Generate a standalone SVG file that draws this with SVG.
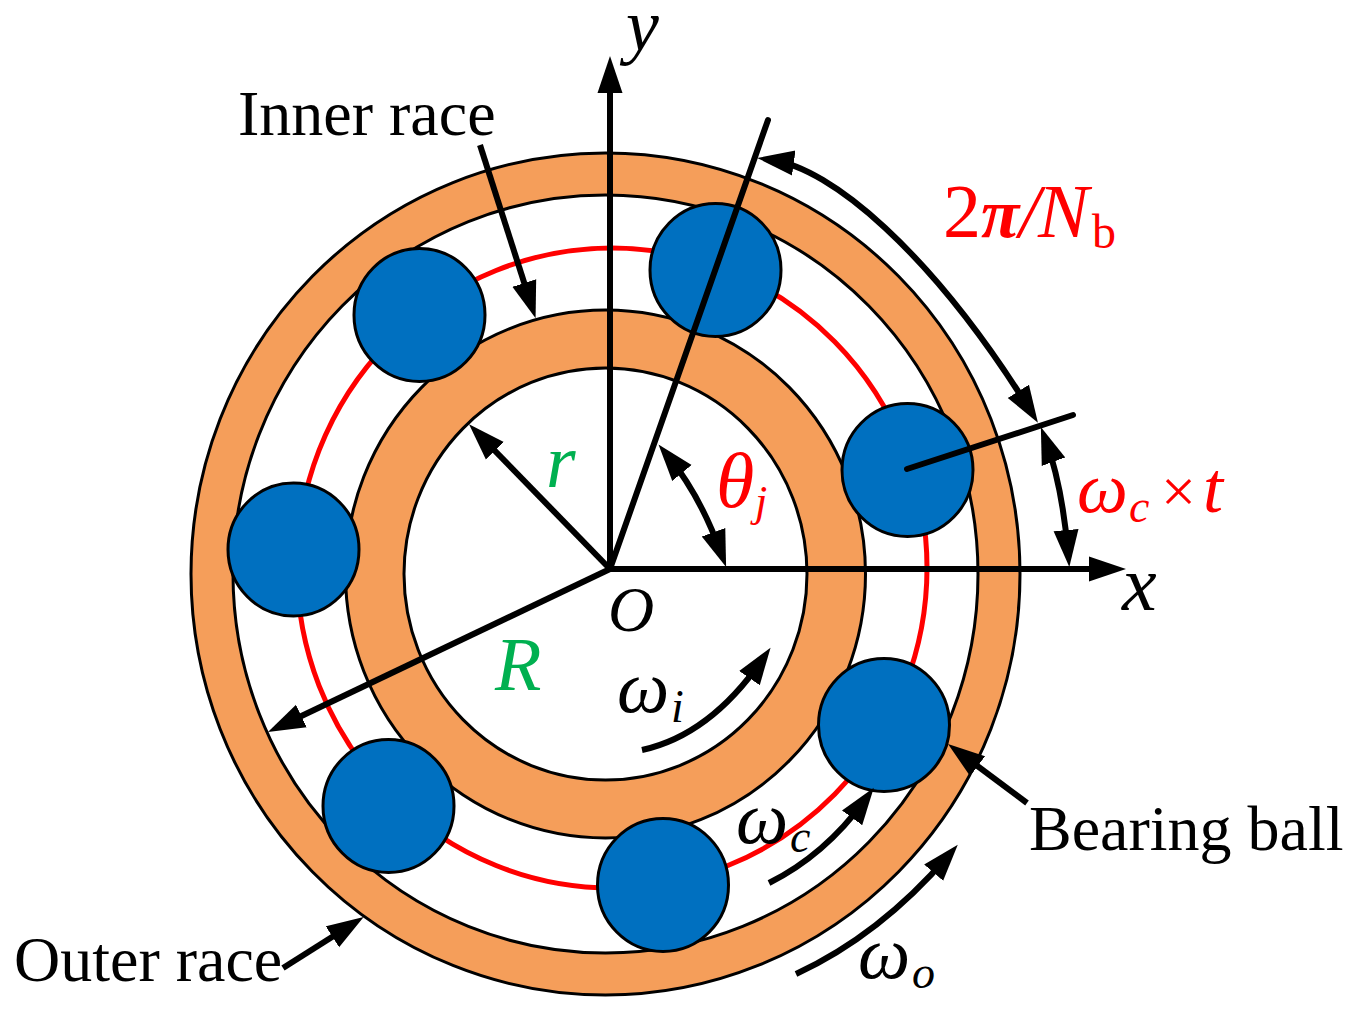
<svg xmlns="http://www.w3.org/2000/svg" width="1356" height="1012" viewBox="0 0 1356 1012">
<style>
.ring{fill:#F59E5A;stroke:#000;stroke-width:3}
.hole{fill:#fff;stroke:#000;stroke-width:3}
.ball{fill:#0070C0;stroke:#000;stroke-width:3}
.ln{fill:none;stroke:#000;stroke-width:6;stroke-linecap:round}
.ar{marker-end:url(#h);stroke-linecap:butt}
.dbl{marker-end:url(#h);marker-start:url(#hs);stroke-linecap:butt}
text{font-family:"Liberation Serif","Times New Roman",serif;font-size:64px;fill:#000}
.i{font-style:italic}
.red{fill:#f00}
.grn{fill:#00B050}
.w{font-size:74px}
.s{font-size:46px}
</style>
<defs>
<marker id="h" markerUnits="userSpaceOnUse" markerWidth="40" markerHeight="30" refX="22" refY="13" orient="auto"><path d="M0 0.500L37 13L0 25.500Z"/></marker>
<marker id="hs" markerUnits="userSpaceOnUse" markerWidth="40" markerHeight="30" refX="22" refY="13" orient="auto-start-reverse"><path d="M0 0.500L37 13L0 25.500Z"/></marker>
</defs>
<g id="outer-race">
<ellipse class="ring" cx="605.5" cy="574" rx="414.5" ry="421"/>
<ellipse class="hole" cx="605.5" cy="574" rx="372.5" ry="379"/>
</g>
<g id="cage"><ellipse cx="612" cy="568" rx="315" ry="320" fill="none" stroke="#f00" stroke-width="5"/></g>
<g id="inner-race">
<ellipse class="ring" cx="605.5" cy="574" rx="260" ry="264"/>
<ellipse class="hole" cx="605.5" cy="574" rx="201.5" ry="206"/>
</g>
<g id="ball-1"><ellipse class="ball" cx="715.5" cy="270" rx="65.5" ry="66.5"/></g>
<g id="ball-2"><ellipse class="ball" cx="907.5" cy="470" rx="65.5" ry="66.5"/></g>
<g id="ball-3"><ellipse class="ball" cx="884" cy="725" rx="65.5" ry="66.5"/></g>
<g id="ball-4"><ellipse class="ball" cx="663" cy="885" rx="65.5" ry="66.5"/></g>
<g id="ball-5"><ellipse class="ball" cx="388.500" cy="806" rx="65.5" ry="66.5"/></g>
<g id="ball-6"><ellipse class="ball" cx="293.500" cy="549.500" rx="65.5" ry="66.5"/></g>
<g id="ball-7"><ellipse class="ball" cx="419.500" cy="315" rx="65.5" ry="66.5"/></g>
<g id="connectors">
<path class="ln ar" d="M606 569H1111"/>
<path class="ln ar" d="M610 569V71"/>
<path class="ln" d="M610 569L768 120"/>
<path class="ln" d="M907 469L1073 415"/>
<path class="ln ar" d="M610 569L479.500 435"/>
<path class="ln ar" d="M610 569L281.500 725.500"/>
<path class="ln dbl" d="M772 160C830 168 930 250 1030 410"/>
<path class="ln dbl" d="M1046 441Q1062 485 1068 552"/>
<path class="ln dbl" d="M668 456Q700 495 721 553"/>
<path class="ln ar" d="M642 750Q710 735 762 660"/>
<path class="ln ar" d="M769 883Q825 855 865 800"/>
<path class="ln ar" d="M796 974Q880 935 948 856"/>
<path class="ln ar" d="M480 145L531 304"/>
<path class="ln ar" d="M1027 803L960 753"/>
<path class="ln ar" d="M283 968L351 925"/>
</g>
<g id="labels">
<text x="238" y="135">Inner race</text>
<text x="1029" y="850">Bearing ball</text>
<text x="14" y="981">Outer race</text>
<text class="i" x="626" y="50" style="font-size:74px">y</text>
<text class="i" x="1122" y="610" style="font-size:78px">x</text>
<text class="i" x="608" y="631" style="font-size:64px">O</text>
<text class="i grn" x="546" y="487" style="font-size:76px">r</text>
<text class="i grn" x="495" y="690" style="font-size:76px">R</text>
<text class="red" y="237" style="font-size:76px"><tspan x="943">2</tspan><tspan x="981" class="i" font-weight="bold" style="font-size:70px">π</tspan><tspan x="1019" class="i">/</tspan><tspan x="1038" class="i">N</tspan><tspan x="1092" y="248" style="font-size:48px">b</tspan></text>
<text class="i red" y="507" style="font-size:78px"><tspan x="716">θ</tspan><tspan x="755" y="516" style="font-size:44px">j</tspan></text>
<text class="i red" y="512" style="font-size:72px"><tspan x="1077">ω</tspan><tspan x="1129" y="522" class="s">c</tspan><tspan x="1161" y="512" font-style="normal" style="font-size:62px">×</tspan><tspan x="1203">t</tspan></text>
<text class="i w" y="712"><tspan x="617">ω</tspan><tspan x="671" y="722" class="s">i</tspan></text>
<text class="i w" y="843"><tspan x="736">ω</tspan><tspan x="790" y="852" class="s">c</tspan></text>
<text class="i w" y="978"><tspan x="858">ω</tspan><tspan x="912" y="988" class="s">o</tspan></text>
</g>
</svg>
